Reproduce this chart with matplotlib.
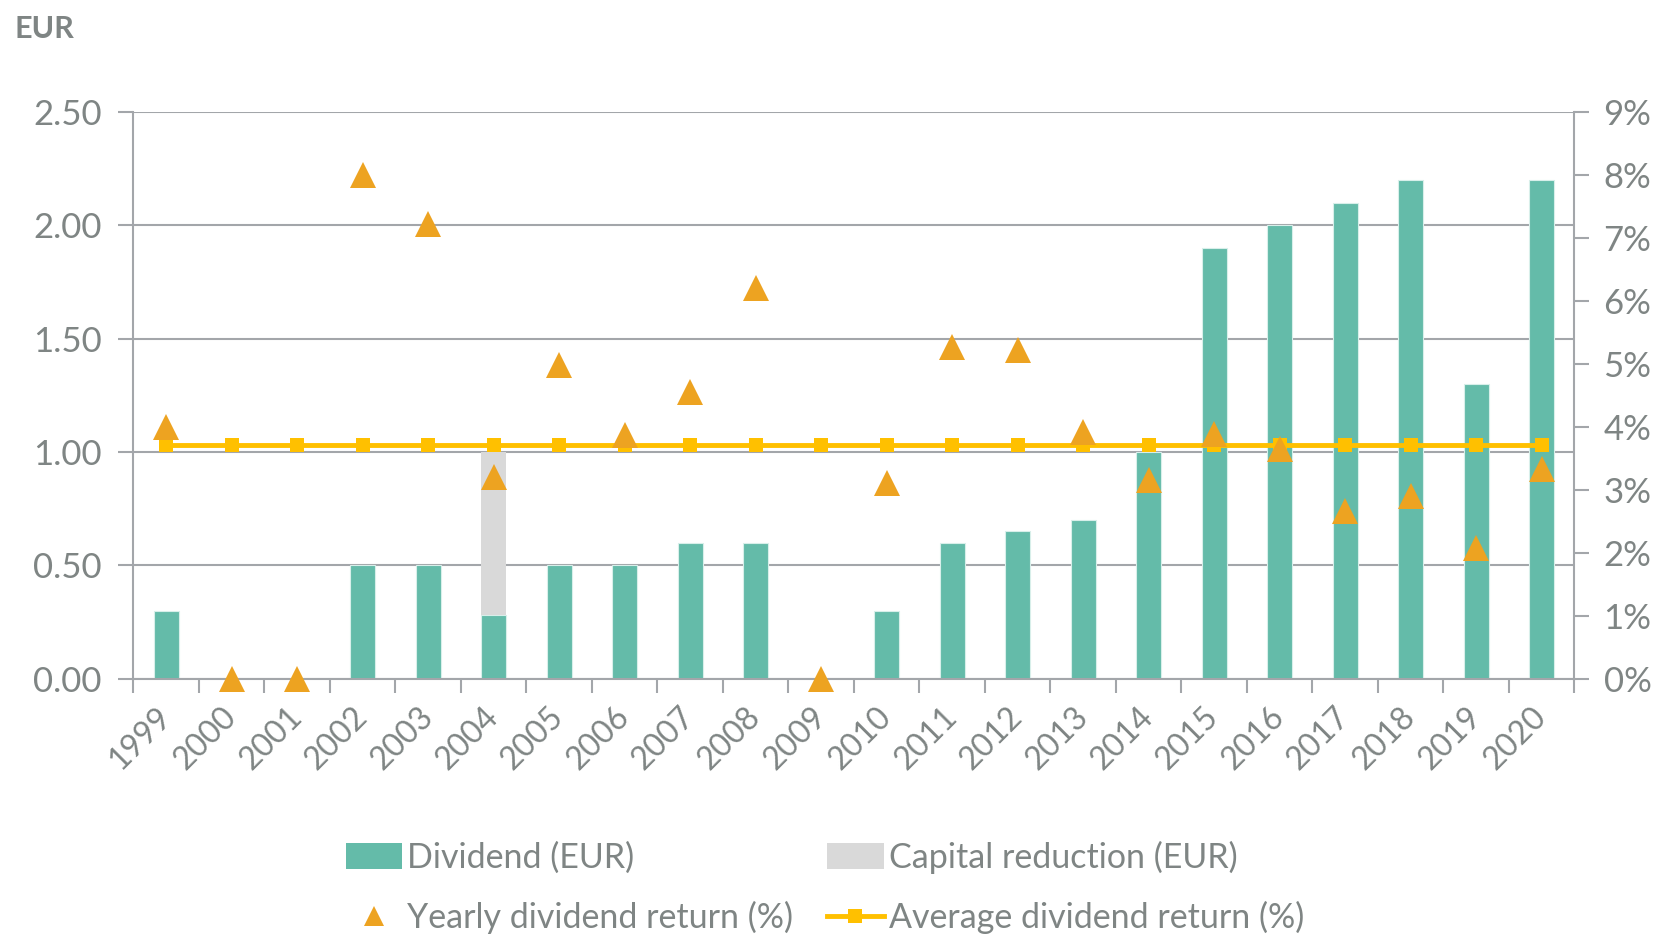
import matplotlib
matplotlib.use("Agg")
import matplotlib.pyplot as plt
import numpy as np
from matplotlib.patches import Patch
from matplotlib.lines import Line2D

years = [str(y) for y in range(1999, 2021)]
dividend = [0.30, 0.0, 0.0, 0.50, 0.50, 0.28, 0.50, 0.50, 0.60, 0.60, 0.0,
            0.30, 0.60, 0.65, 0.70, 1.00, 1.90, 2.00, 2.10, 2.20, 1.30, 2.20]
capital_reduction = [0, 0, 0, 0, 0, 0.72, 0, 0, 0, 0, 0,
                     0, 0, 0, 0, 0, 0, 0, 0, 0, 0, 0]
yearly_return = [4.0, 0.0, 0.0, 8.0, 7.22, 3.2, 4.98, 3.87, 4.56, 6.21, 0.0,
                 3.11, 5.27, 5.22, 3.92, 3.16, 3.88, 3.65, 2.66, 2.90, 2.08, 3.33]
average_return = [3.71] * 22
left_ticks = [0, 0.5, 1.0, 1.5, 2.0, 2.5]
right_ticks = list(range(0, 10))

TEAL = "#64bba9"
GREYBAR = "#d9d9d9"
ORANGE = "#eda321"
GOLD = "#ffc000"
TXT = "#7f8584"
GRID = "#a3a6aa"
FONT = "Lato"

plt.rcParams['font.family'] = [FONT, 'DejaVu Sans']

fig = plt.figure(figsize=(16.6, 9.35), dpi=100)
ax = fig.add_axes([0.0804, 0.2742, 0.9484 - 0.0804, 0.880 - 0.2742])
x = np.arange(len(years))

ax.set_axisbelow(True)
ax.bar(x, dividend, width=0.38, color=TEAL, edgecolor="#d8efea", linewidth=0.8, zorder=2)
ax.bar(x, capital_reduction, bottom=dividend, width=0.38, color=GREYBAR, linewidth=0, zorder=2)
ax.set_ylim(0, 2.5)
ax.set_xlim(-0.5, len(years) - 0.5)
ax.set_yticks(left_ticks)
ax.set_yticklabels([f"{v:.2f}" for v in left_ticks])
ax.yaxis.grid(True, color=GRID, linewidth=1.5)
ax.xaxis.grid(False)

ax.set_xticks(x)
ax.set_xticklabels(years, rotation=45, ha='right', va='center', rotation_mode='anchor')
ax.set_xticks(np.arange(-0.5, len(years), 1), minor=True)
ax.tick_params(axis='x', which='major', length=0, pad=24, labelsize=23, labelcolor=TXT)
ax.tick_params(axis='x', which='minor', length=10, width=1.5, color=GRID, direction='out')
ax.tick_params(axis='y', length=11, width=1.5, color=GRID, labelsize=25, labelcolor=TXT, pad=12)

for s in ['top', 'right']:
    ax.spines[s].set_visible(False)
for s in ['left', 'bottom']:
    ax.spines[s].set_color(GRID)
    ax.spines[s].set_linewidth(1.5)

ax2 = ax.twinx()
ax2.set_ylim(0, 9)
ax2.set_yticks(right_ticks)
ax2.set_yticklabels([f"{v}%" for v in right_ticks])
ax2.tick_params(axis='y', length=11, width=1.5, color=GRID, labelsize=25, labelcolor=TXT, pad=10)
for s in ['top', 'left', 'bottom']:
    ax2.spines[s].set_visible(False)
ax2.spines['right'].set_color(GRID)
ax2.spines['right'].set_linewidth(1.5)

ax2.plot(x, average_return, color=GOLD, linewidth=3.5, marker='s', markersize=10,
         markeredgewidth=0, zorder=3)
ax2.plot(x, yearly_return, linestyle='none', marker='^', color=ORANGE, markersize=19,
         markeredgewidth=0, zorder=4, clip_on=False)

fig.text(0.009, 0.969, "EUR", fontsize=22, fontweight='bold', color=TXT, ha='left', va='center')

h1 = Patch(facecolor=TEAL, edgecolor='none')
h2 = Patch(facecolor=GREYBAR, edgecolor='none')
h3 = Line2D([], [], linestyle='none', marker='^', color=ORANGE, markersize=14, markeredgewidth=0)
h4 = Line2D([], [], color=GOLD, linewidth=3.5, marker='s', markersize=10, markeredgewidth=0)
leg = fig.legend([h1, h3, h2, h4],
                 ["Dividend (EUR)", "Yearly dividend return (%)",
                  "Capital reduction (EUR)", "Average dividend return (%)"],
                 ncol=2, loc='center', bbox_to_anchor=(0.497, 0.051), frameon=False,
                 fontsize=24.5, labelcolor=TXT, handlelength=1.65, handleheight=0.8,
                 handletextpad=0.15, columnspacing=1.0, labelspacing=0.8)

fig.savefig("out.png", dpi=100)
